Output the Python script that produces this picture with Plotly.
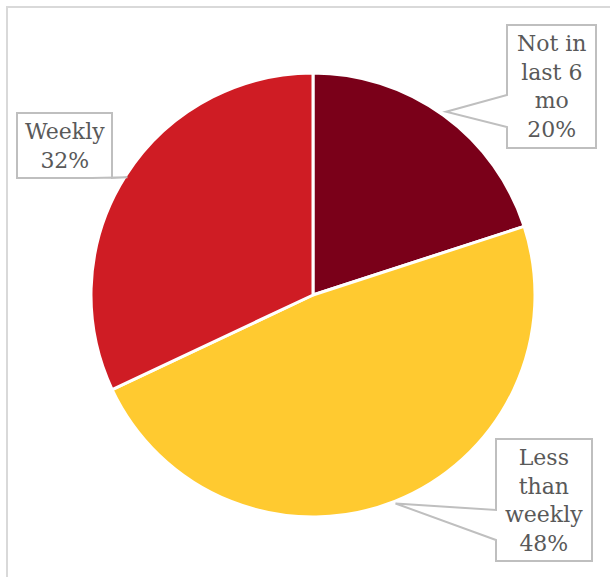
import math
import plotly.graph_objects as go

# Survey answer shares (percent)
categories = ["Not in last 6 mo", "Less than weekly", "Weekly"]
label_lines = [["Not in", "last 6", "mo"], ["Less", "than", "weekly"], ["Weekly"]]
values = [20, 48, 32]
colors = ["#7a0019", "#ffca30", "#cf1c24"]

W, H = 610, 577
CX, CY, R = 313, 295, 222  # pie centre and radius in pixels

# callout boxes: (left, top, right, bottom) in pixels, pointer side, tip radius factor
boxes = [
    dict(box=(507, 25, 596, 148), side="left", base=(95, 127), rf=1.02),
    dict(box=(496, 439, 592, 561), side="left", base=(510, 540), rf=1.01),
    dict(box=(17, 113, 112, 178), side="bottom", base=(92, 112), rf=0.99),
]


def px(x):
    return x / W


def py(y):
    return 1 - y / H


fig = go.Figure(
    go.Pie(
        labels=categories,
        values=values,
        marker=dict(colors=colors, line=dict(color="white", width=3)),
        sort=False,
        direction="clockwise",
        rotation=0,
        textinfo="none",
        hoverinfo="label+percent",
        domain=dict(x=[px(CX - R), px(CX + R)], y=[py(CY + R), py(CY - R)]),
        showlegend=False,
    )
)

shapes = [
    # outer chart frame
    dict(type="rect", xref="paper", yref="paper", x0=px(7), x1=px(W + 20),
         y0=py(H + 20), y1=py(7), line=dict(color="#d9d9d9", width=2),
         fillcolor="rgba(0,0,0,0)", layer="below"),
]
annotations = []

total = sum(values)
cum = 0
for i, v in enumerate(values):
    mid = (cum + v / 2) / total * 2 * math.pi
    cum += v
    b = boxes[i]
    x0, y0, x1, y1 = b["box"]
    tx = CX + b["rf"] * R * math.sin(mid)
    ty = CY - b["rf"] * R * math.cos(mid)
    a1, a2 = b["base"]
    if b["side"] == "left":
        pts = [(x0, y0), (x1, y0), (x1, y1), (x0, y1), (x0, a2), (tx, ty), (x0, a1)]
    else:
        pts = [(x0, y0), (x1, y0), (x1, y1), (a2, y1), (tx, ty), (a1, y1), (x0, y1)]
    path = "M " + " L ".join(f"{px(x):.5f},{py(y):.5f}" for x, y in pts) + " Z"
    shapes.append(dict(type="path", xref="paper", yref="paper", path=path,
                       fillcolor="white", line=dict(color="#bfbfbf", width=2)))
    text = "<br>".join(label_lines[i] + [f"{v / total * 100:.0f}%"])
    annotations.append(dict(
        x=px((x0 + x1) / 2), y=py((y0 + y1) / 2), xref="paper", yref="paper",
        text=text, showarrow=False, align="center",
        font=dict(family="DejaVu Serif", size=22, color="#595959"),
        xanchor="center", yanchor="middle",
    ))

fig.update_layout(
    width=W, height=H,
    margin=dict(l=0, r=0, t=0, b=0),
    paper_bgcolor="white",
    plot_bgcolor="white",
    shapes=shapes,
    annotations=annotations,
)

fig.write_html("out.html")
